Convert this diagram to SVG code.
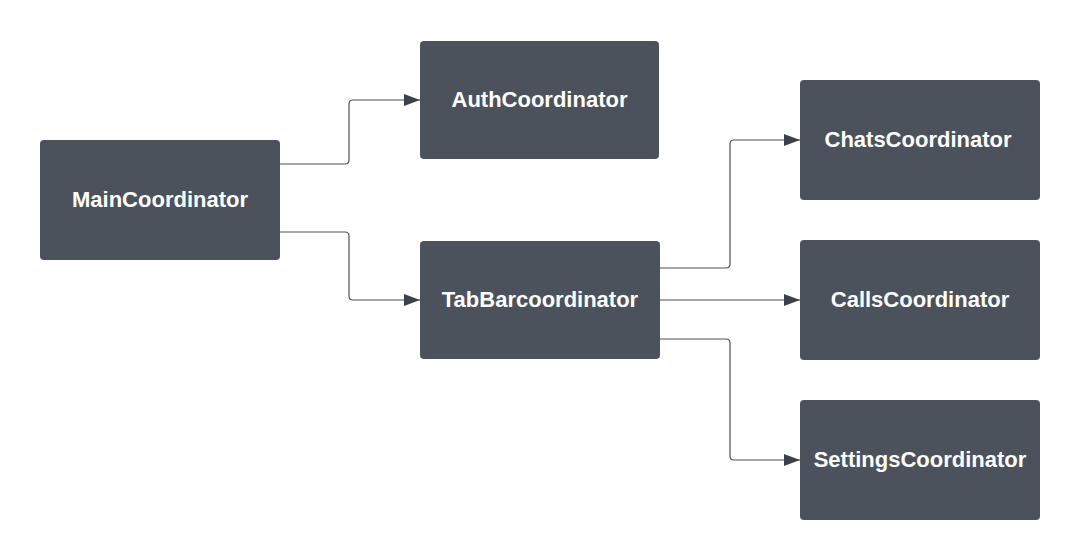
<svg xmlns="http://www.w3.org/2000/svg" width="1080" height="560" viewBox="0 0 1080 560">
<style>
.box{fill:#4b525c;}
.lbl{fill:#ffffff;font-family:"Liberation Sans",Arial,sans-serif;font-weight:bold;font-size:22px;text-anchor:middle;dominant-baseline:central;}
.con{fill:none;stroke:#4b525c;stroke-width:1.2;}
</style>
<defs>
<marker id="arr" markerWidth="16" markerHeight="12" refX="16" refY="6" orient="auto" markerUnits="userSpaceOnUse">
<path d="M0,0 L16,6 L0,12 Z" fill="#3a414b"/>
</marker>
</defs>
<rect width="1080" height="560" fill="#ffffff"/>
<g id="connectors">
<path class="con" d="M280,164 H345 Q349,164 349,160 V104 Q349,100 353,100 H420" marker-end="url(#arr)"/>
<path class="con" d="M280,232 H345 Q349,232 349,236 V296 Q349,300 353,300 H420" marker-end="url(#arr)"/>
<path class="con" d="M660,268 H726 Q730,268 730,264 V144 Q730,140 734,140 H800" marker-end="url(#arr)"/>
<path class="con" d="M660,300 H800" marker-end="url(#arr)"/>
<path class="con" d="M660,339 H726 Q730,339 730,343 V456 Q730,460 734,460 H800" marker-end="url(#arr)"/>
</g>
<g id="main"><rect class="box" x="40" y="140" width="240" height="120" rx="4"/><text class="lbl" x="160" y="199">MainCoordinator</text></g>
<g id="auth"><rect class="box" x="420" y="41" width="239" height="118" rx="4"/><text class="lbl" x="539.5" y="99">AuthCoordinator</text></g>
<g id="tabbar"><rect class="box" x="420" y="241" width="240" height="118" rx="4"/><text class="lbl" x="540" y="299">TabBarcoordinator</text></g>
<g id="chats"><rect class="box" x="800" y="80" width="240" height="120" rx="4"/><text class="lbl" x="918" y="139">ChatsCoordinator</text></g>
<g id="calls"><rect class="box" x="800" y="240" width="240" height="120" rx="4"/><text class="lbl" x="920" y="299">CallsCoordinator</text></g>
<g id="settings"><rect class="box" x="800" y="400" width="240" height="120" rx="4"/><text class="lbl" x="920" y="459">SettingsCoordinator</text></g>
</svg>
